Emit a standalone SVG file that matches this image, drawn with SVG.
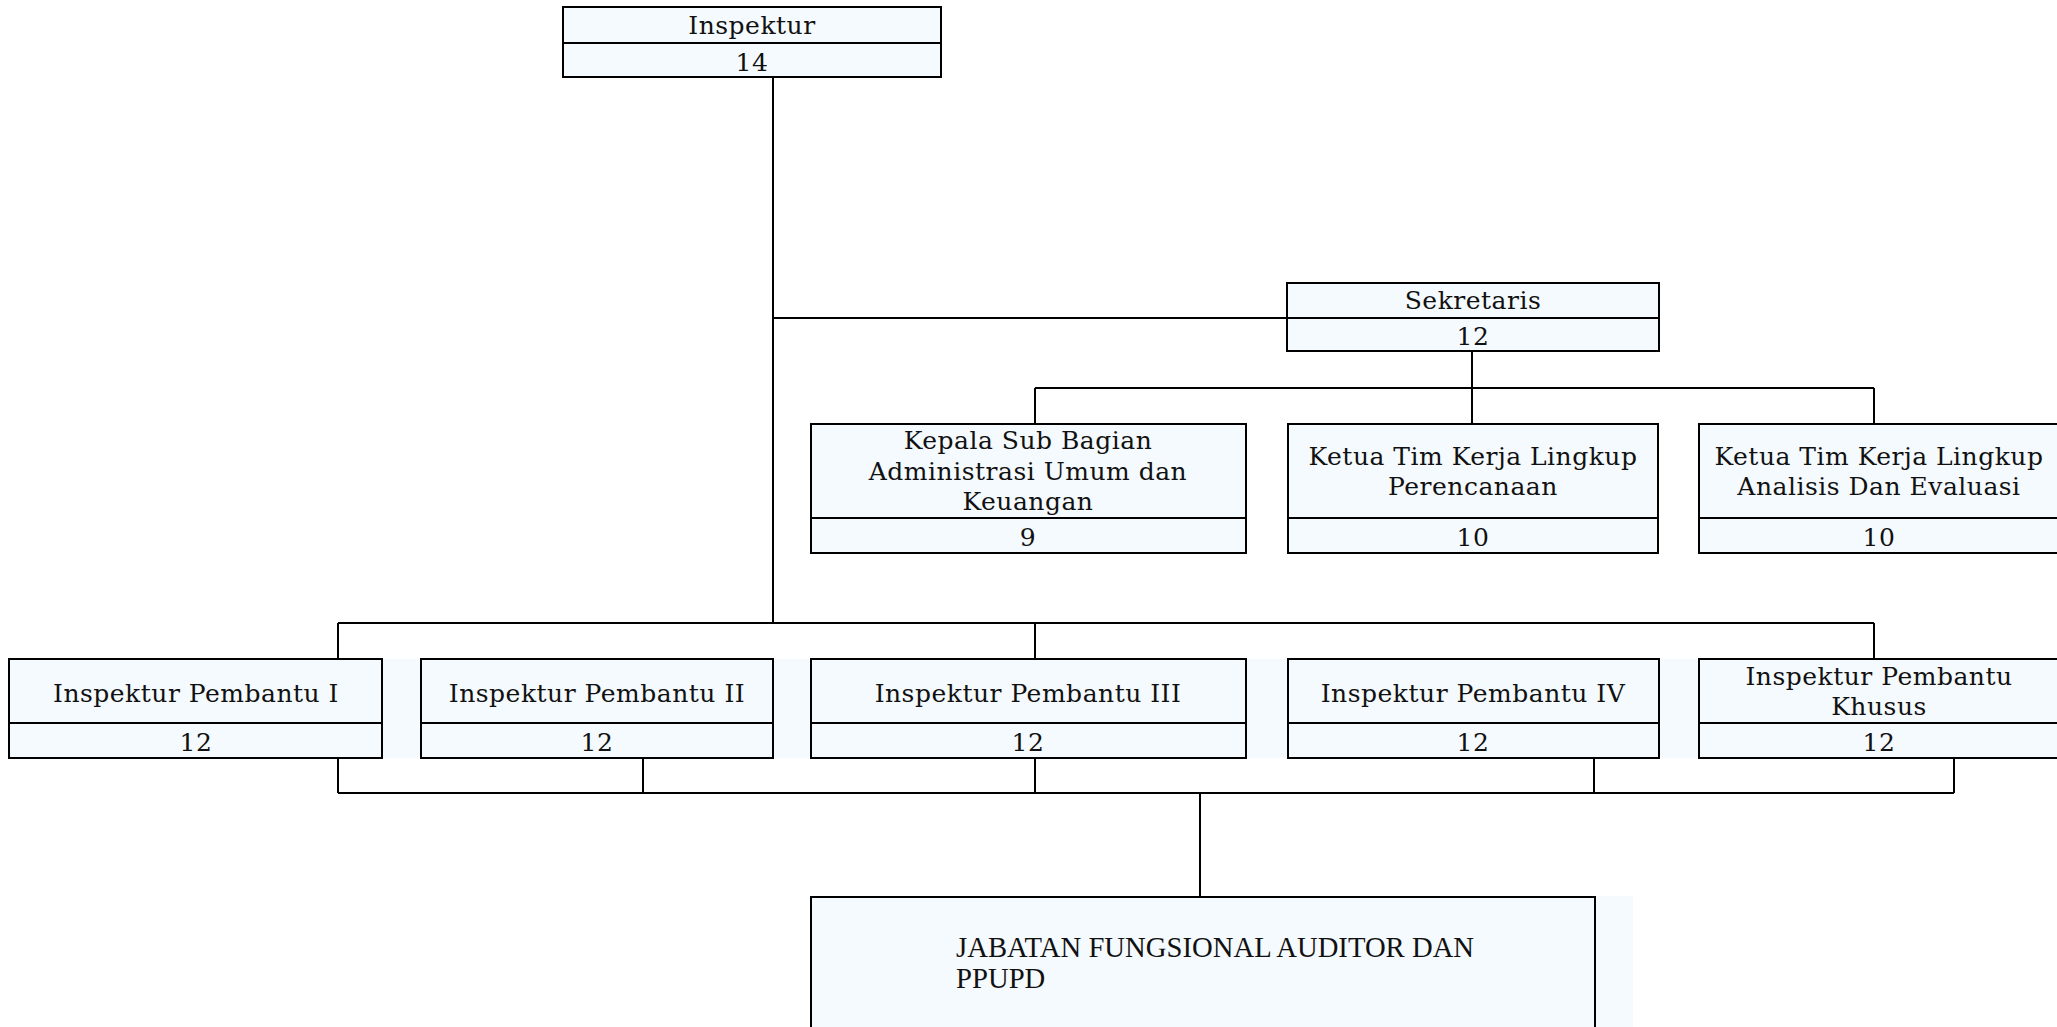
<svg xmlns="http://www.w3.org/2000/svg" width="2057" height="1027" viewBox="0 0 2057 1027">
<style>
.box{fill:#F5FAFE;stroke:#000;stroke-width:2}
.bg{fill:#F5FAFE}
.div{stroke:#000;stroke-width:2}
.t{font-family:"DejaVu Serif","Liberation Serif",serif;font-size:25px;letter-spacing:0.5px;fill:#111;text-anchor:middle}
.j{font-family:"Liberation Serif","Times New Roman",serif;font-size:28.7px;fill:#111}
.c{fill:none;stroke:#000;stroke-width:2}
</style>
<rect width="2057" height="1027" fill="#fff"/>
<rect class="bg" x="9" y="659" width="2048" height="99"/>
<rect class="bg" x="811" y="896" width="822" height="131"/>
<g id="connectors">
<path class="c" d="M773,77 V623"/>
<path class="c" d="M773,318 H1287"/>
<path class="c" d="M1472,351 V388 M1035,388 H1874 M1035,388 V424 M1472,388 V424 M1874,388 V424"/>
<path class="c" d="M338,623 H1874 M338,623 V659 M1035,623 V659 M1874,623 V659"/>
<path class="c" d="M338,758 V793 M643,758 V793 M1035,758 V793 M1594,758 V793 M1954,758 V793 M338,793 H1954"/>
<path class="c" d="M1200,793 V897"/>
</g>
<g id="inspektur">
<rect class="box" x="563" y="7" width="378" height="70"/>
<line class="div" x1="563" y1="43" x2="941" y2="43"/>
<text class="t" x="752" y="34">Inspektur</text>
<text class="t" x="752" y="71">14</text>
</g>
<g id="sekretaris">
<rect class="box" x="1287" y="283" width="372" height="68"/>
<line class="div" x1="1287" y1="318" x2="1659" y2="318"/>
<text class="t" x="1473" y="309">Sekretaris</text>
<text class="t" x="1473" y="345">12</text>
</g>
<g id="kasubag">
<rect class="box" x="811" y="424" width="435" height="129"/>
<line class="div" x1="811" y1="518" x2="1246" y2="518"/>
<text class="t" x="1028" y="449">Kepala Sub Bagian</text>
<text class="t" x="1028" y="480">Administrasi Umum dan</text>
<text class="t" x="1028" y="510">Keuangan</text>
<text class="t" x="1028" y="546">9</text>
</g>
<g id="ketua-perencanaan">
<rect class="box" x="1288" y="424" width="370" height="129"/>
<line class="div" x1="1288" y1="518" x2="1658" y2="518"/>
<text class="t" x="1473" y="465">Ketua Tim Kerja Lingkup</text>
<text class="t" x="1473" y="495">Perencanaan</text>
<text class="t" x="1473" y="546">10</text>
</g>
<g id="ketua-analisis">
<rect class="box" x="1699" y="424" width="362" height="129"/>
<line class="div" x1="1699" y1="518" x2="2061" y2="518"/>
<text class="t" x="1879" y="465">Ketua Tim Kerja Lingkup</text>
<text class="t" x="1879" y="495">Analisis Dan Evaluasi</text>
<text class="t" x="1879" y="546">10</text>
</g>
<g id="irban-1">
<rect class="box" x="9" y="659" width="373" height="99"/>
<line class="div" x1="9" y1="723" x2="382" y2="723"/>
<text class="t" x="196" y="702">Inspektur Pembantu I</text>
<text class="t" x="196" y="751">12</text>
</g>
<g id="irban-2">
<rect class="box" x="421" y="659" width="352" height="99"/>
<line class="div" x1="421" y1="723" x2="773" y2="723"/>
<text class="t" x="597" y="702">Inspektur Pembantu II</text>
<text class="t" x="597" y="751">12</text>
</g>
<g id="irban-3">
<rect class="box" x="811" y="659" width="435" height="99"/>
<line class="div" x1="811" y1="723" x2="1246" y2="723"/>
<text class="t" x="1028" y="702">Inspektur Pembantu III</text>
<text class="t" x="1028" y="751">12</text>
</g>
<g id="irban-4">
<rect class="box" x="1288" y="659" width="371" height="99"/>
<line class="div" x1="1288" y1="723" x2="1659" y2="723"/>
<text class="t" x="1473" y="702">Inspektur Pembantu IV</text>
<text class="t" x="1473" y="751">12</text>
</g>
<g id="irban-khusus">
<rect class="box" x="1699" y="659" width="362" height="99"/>
<line class="div" x1="1699" y1="723" x2="2061" y2="723"/>
<text class="t" x="1879" y="685">Inspektur Pembantu</text>
<text class="t" x="1879" y="715">Khusus</text>
<text class="t" x="1879" y="751">12</text>
</g>
<g id="jabatan-fungsional">
<rect class="box" x="811" y="897" width="784" height="140"/>
<text class="j" x="956" y="957">JABATAN FUNGSIONAL AUDITOR DAN</text>
<text class="j" x="956" y="988">PPUPD</text>
</g>
</svg>
